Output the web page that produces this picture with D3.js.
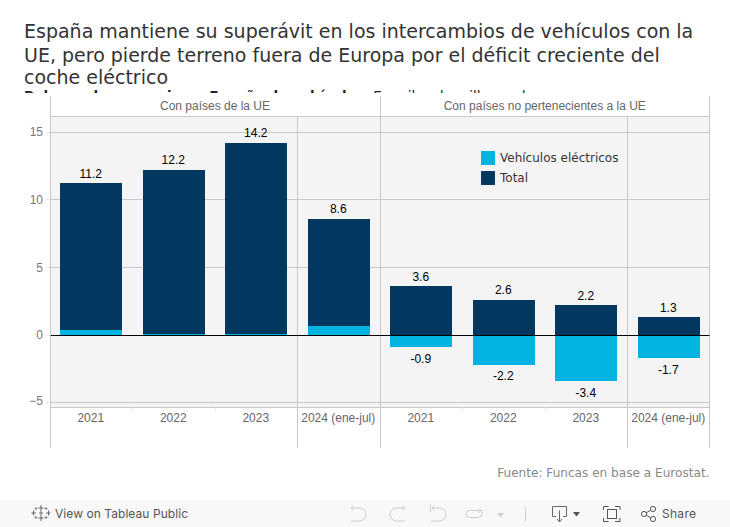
<!DOCTYPE html>
<html><head><meta charset="utf-8">
<script src="https://cdn.jsdelivr.net/npm/d3@7/dist/d3.min.js"></script>
<style>html,body{margin:0;padding:0;background:#fff;overflow:hidden}svg{display:block}</style>
</head><body><svg id="c" width="730" height="527"></svg>
<script>
const titleLines = ["España mantiene su superávit en los intercambios de vehículos con la","UE, pero pierde terreno fuera de Europa por el déficit creciente del","coche eléctrico"];
const subtitleBold = "Balanza de comercio en España de vehículos.";
const subtitleRest = " En miles de millones de";
const groups = ["Con países de la UE","Con países no pertenecientes a la UE"];
const periods = ["2021","2022","2023","2024 (ene-jul)"];
const totalEU = [11.2,12.2,14.2,8.6];
const totalNonEU = [3.6,2.6,2.2,1.3];
const electricEU = [0.37,0.08,0.08,0.66];
const electricNonEU = [-0.9,-2.2,-3.4,-1.7];
const yTicks = [-5,0,5,10,15];
const legendLabels = ["Vehículos eléctricos","Total"];
const source = "Fuente: Funcas en base a Eurostat.";

const NAVY="#02375f", CYAN="#00b3e1", GRID="#c8c8c8", DJ="'DejaVu Sans',sans-serif", AR="'Liberation Sans',Arial,sans-serif";
const svg=d3.select("#c");
const left=50.5,right=709.5,hTop=96,hBot=116.5,pBot=407.5,axBot=448;
const y=d3.scaleLinear().domain([-5,15]).range([402.7,132]);
const snap=v=>Math.floor(v)+0.5;
const keys=[];groups.forEach((g,i)=>periods.forEach((p,j)=>keys.push(i+"-"+j)));
const x=d3.scaleBand().domain(keys).range([50,710]).paddingInner(0.25).paddingOuter(0.125);
const col=d3.scaleBand().domain(keys).range([50,710]);

// title
const titleY=[38,61.5,84];
svg.append("g").selectAll("text").data(titleLines).join("text")
 .attr("x",24).attr("y",(d,i)=>titleY[i]).attr("font-family",DJ).attr("font-size",19).attr("fill","#333").text(d=>d);
const sub=svg.append("text").attr("x",24).attr("y",100.8).attr("font-family",DJ).attr("font-size",13.5).attr("fill","#222");
sub.append("tspan").attr("font-weight","bold").text(subtitleBold);
sub.append("tspan").text(subtitleRest);
// the reference clips this line where the chart begins
svg.append("rect").attr("x",0).attr("y",93).attr("width",730).attr("height",24).attr("fill","#fff");

// panel
svg.append("rect").attr("x",left).attr("y",hBot).attr("width",right-left).attr("height",pBot-hBot).attr("fill","#f4f4f4");
// gridlines
svg.append("g").selectAll("line").data(yTicks.filter(d=>d!==0)).join("line")
 .attr("x1",left).attr("x2",right).attr("y1",d=>snap(y(d))).attr("y2",d=>snap(y(d)))
 .attr("stroke",GRID);
// header and plot rules
[hBot,pBot].forEach(v=>svg.append("line").attr("x1",left).attr("x2",right).attr("y1",v).attr("y2",v).attr("stroke",GRID));
// verticals
const vx=[left,snap(col("0-3")),snap(col("1-0")),snap(col("1-3")),right];
const vTop=[hTop,hBot,hTop,hBot,hTop];
vx.forEach((v,i)=>svg.append("line").attr("x1",v).attr("x2",v).attr("y1",vTop[i]).attr("y2",axBot).attr("stroke",GRID));
// small ticks between years
["0-1","0-2","1-1","1-2"].forEach(k=>svg.append("line").attr("x1",snap(col(k))).attr("x2",snap(col(k))).attr("y1",pBot).attr("y2",pBot+4).attr("stroke","#eaeaea"));

// bars
const rows=[];
groups.forEach((g,i)=>periods.forEach((p,j)=>{
  const t=(i?totalNonEU:totalEU)[j], e=(i?electricNonEU:electricEU)[j];
  rows.push({k:i+"-"+j,t,e,p,g});
}));
const bars=svg.append("g").attr("shape-rendering","crispEdges");
bars.selectAll(".t").data(rows).join("rect").attr("class","t").attr("x",d=>x(d.k)).attr("width",x.bandwidth())
 .attr("y",d=>y(d.t)).attr("height",d=>y(0)-y(d.t)).attr("fill",NAVY);
bars.selectAll(".e").data(rows).join("rect").attr("class","e").attr("x",d=>x(d.k)).attr("width",x.bandwidth())
 .attr("y",d=>y(Math.max(0,d.e))).attr("height",d=>Math.abs(y(d.e)-y(0))).attr("fill",CYAN);
svg.append("line").attr("x1",left).attr("x2",right).attr("y1",snap(y(0))).attr("y2",snap(y(0))).attr("stroke","#000");

// value labels
const lab=svg.append("g").attr("font-family",AR).attr("font-size",12).attr("fill","#000").attr("text-anchor","middle");
lab.selectAll(".a").data(rows).join("text").attr("class","a").attr("x",d=>x(d.k)+x.bandwidth()/2-0.5).attr("y",d=>y(d.t)-5.5).text(d=>d.t.toFixed(1));
lab.selectAll(".b").data(rows.filter(d=>d.e<0)).join("text").attr("class","b").attr("x",d=>x(d.k)+x.bandwidth()/2-0.5).attr("y",d=>y(d.e)+15.5).text(d=>d.e.toFixed(1));

// y axis
const yAxis=d3.axisLeft(y).tickValues(yTicks).tickSize(0).tickPadding(7.5);
const ya=svg.append("g").attr("transform",`translate(${left},0)`).call(yAxis);
ya.select(".domain").remove();
ya.selectAll("text").attr("font-family",AR).attr("font-size",12).attr("fill","#777");
ya.selectAll(".tick").filter(d=>d===-5).select("text").attr("y",-2.5);
// tick marks of the gridlines run just past the panel edge
svg.append("g").selectAll("line").data(yTicks).join("line")
 .attr("x1",left-4).attr("x2",left).attr("y1",d=>snap(y(d))).attr("y2",d=>snap(y(d))).attr("stroke","#e6e6e6");

// group headers
svg.append("g").selectAll("text").data(groups).join("text")
 .attr("x",(d,i)=>i?(col("1-0")+right)/2:(col("0-0")+col("1-0"))/2).attr("y",110).attr("text-anchor","middle")
 .attr("font-family",AR).attr("font-size",12).attr("fill","#666").text(d=>d);
// period labels
svg.append("g").selectAll("text").data(rows).join("text")
 .attr("x",d=>col(d.k)+col.bandwidth()/2-0.5).attr("y",422).attr("text-anchor","middle")
 .attr("font-family",AR).attr("font-size",12).attr("fill","#666").text(d=>d.p);

// legend
const lg=svg.append("g").selectAll("g").data(legendLabels).join("g").attr("transform",(d,i)=>`translate(481,${151+i*20})`);
lg.append("rect").attr("width",14).attr("height",14).attr("fill",(d,i)=>i?NAVY:CYAN);
lg.append("text").attr("x",19).attr("y",10.8).attr("font-family",DJ).attr("font-size",12).attr("fill","#333").text(d=>d);

// source
svg.append("text").attr("x",709.5).attr("y",477).attr("text-anchor","end").attr("font-family",DJ).attr("font-size",12.1).attr("fill","#888").text(source);

// toolbar
const tb=svg.append("g");
tb.append("rect").attr("x",0).attr("y",500).attr("width",730).attr("height",27).attr("fill","#f8f8f8");
tb.append("text").attr("x",55).attr("y",518).attr("textLength",133).attr("font-family","Inter,"+AR).attr("font-size",12).attr("fill","#555").text("View on Tableau Public");
tb.append("text").attr("x",662).attr("y",518).attr("textLength",34).attr("font-family","Inter,"+AR).attr("font-size",12).attr("fill","#555").text("Share");
const ic=(d,s,w)=>tb.append("path").attr("d",d).attr("fill","none").attr("stroke",s).attr("stroke-width",w||1);
// tableau logo
ic("M41 505v6M38.5 508h5M41 515v6M38.5 518h5M33.5 510.5v5M31.5 513h4.5M48.5 510.5v5M46 513h4.5","#666",1);
ic("M36 507v3M34.5 508.5h3M46 507v3M44.5 508.5h3M36 516v3M34.5 517.5h3M46 516v3M44.5 517.5h3","#888",1);
ic("M41 511v4M39 513h4","#777",1);
// undo, redo, revert, refresh
ic("M351 508h8.5a6.5 6.5 0 0 1 0 13h-8.5M353.5 505.5l-2.5 2.5 2.5 2.5","#ccc",1);
ic("M405 508h-8.5a6.5 6.5 0 0 0 0 13h8.5M402.5 505.5l2.5 2.5-2.5 2.5","#ccc",1);
ic("M430.5 505v7M432 508h7.5a6.5 6.5 0 0 1 0 13h-8.5M434.5 505.5l-2.5 2.5 2.5 2.5","#ccc",1);
ic("M481 510.5h-11.5a3.5 3.5 0 0 0 0 7h9a3.5 3.5 0 0 0 3.5-3.5v-3.5M478.5 508l2.5 2.5-2.5 2.5","#ccc",1);
tb.append("path").attr("d","M497 513h7l-3.5 4z").attr("fill","#ccc");
ic("M525.5 507v14","#ccc",1);
// download
ic("M556 516.5h-3.5v-10h14v10h-3.5M559.5 510.5v11M557 519l2.5 3 2.5-3","#666",1);
tb.append("path").attr("d","M573 512h7l-3.5 4.5z").attr("fill","#555");
// fit
ic("M603.5 510v-3.5h5M615 506.5h5v3.5M620 518v3.5h-5M608.5 521.5h-5v-3.5","#555",1);
svg.append("rect").attr("x",607.5).attr("y",509.5).attr("width",9).attr("height",9).attr("fill","none").attr("stroke","#555");
// share
ic("M653 509l-9 5 9 5","#555",1);
[[653,509],[644,514],[653,519]].forEach(([a,b])=>tb.append("circle").attr("cx",a).attr("cy",b).attr("r",2.6).attr("fill","#f8f8f8").attr("stroke","#555"));
</script></body></html>
